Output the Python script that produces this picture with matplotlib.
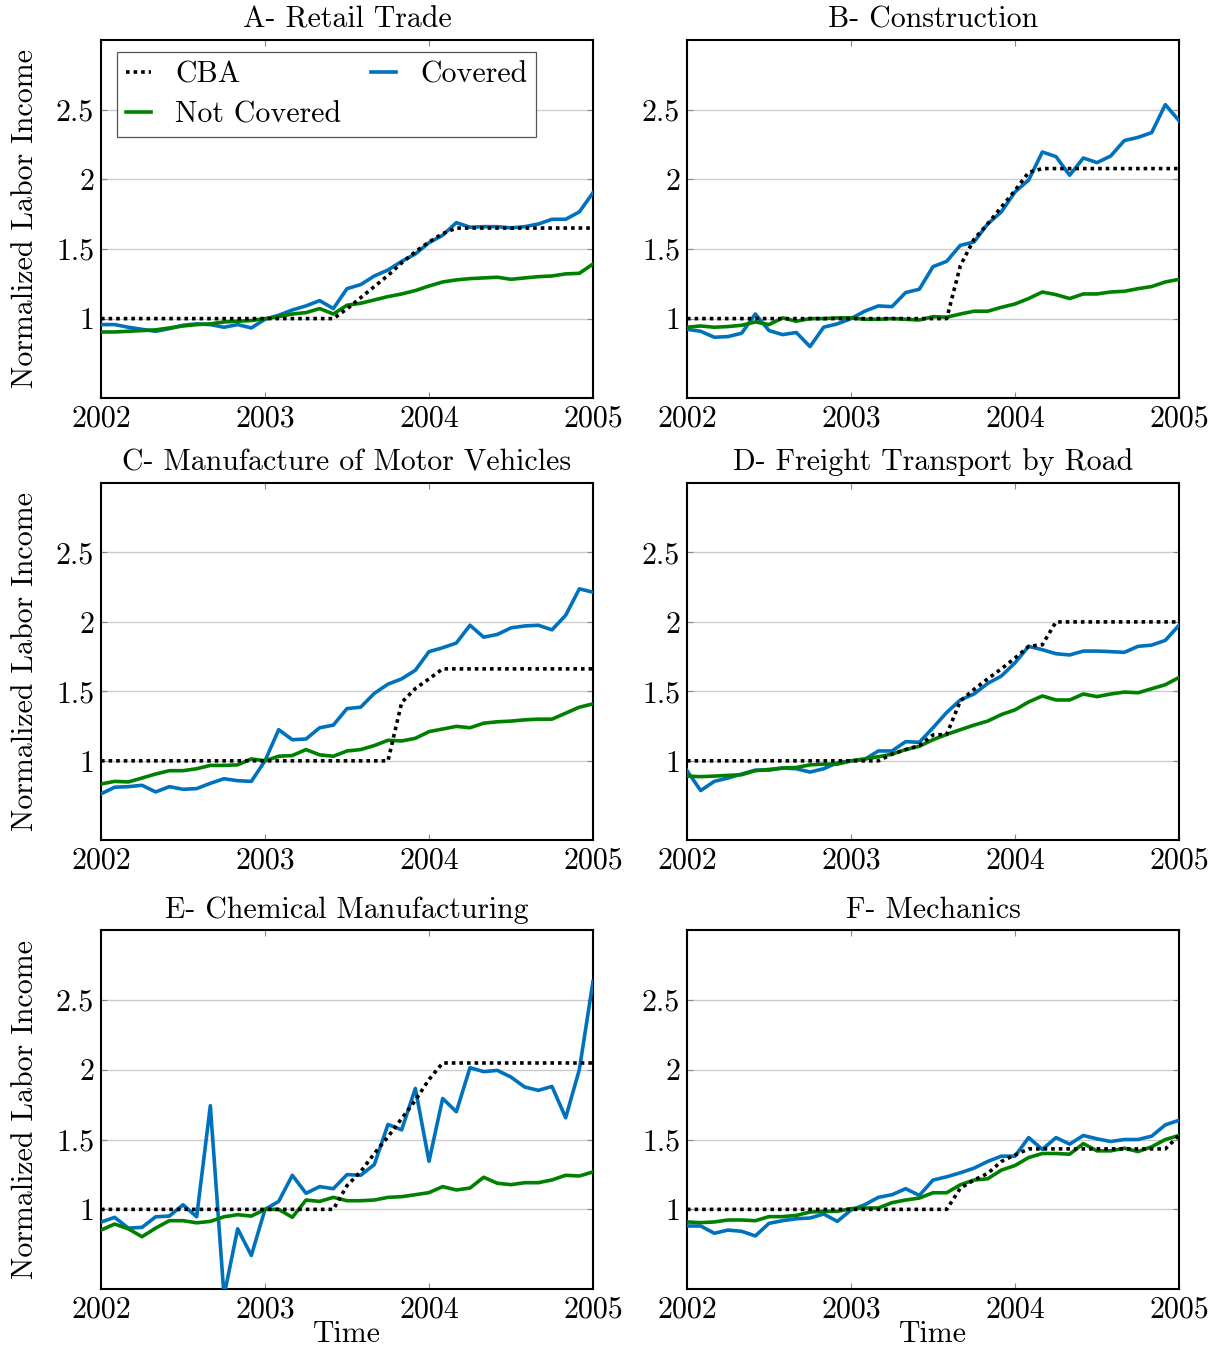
import numpy as np
import matplotlib
matplotlib.use("Agg")
import matplotlib.pyplot as plt
from matplotlib.ticker import FixedLocator, FixedFormatter

plt.rcParams['font.family'] = ['cmr10', 'DejaVu Serif']
plt.rcParams['mathtext.fontset'] = 'cm'
plt.rcParams['axes.formatter.use_mathtext'] = True

# monthly observations, Jan 2002 .. Jan 2005
months = 2002 + np.arange(37) / 12.0

titles = ["A- Retail Trade", "B- Construction",
          "C- Manufacture of Motor Vehicles", "D- Freight Transport by Road",
          "E- Chemical Manufacturing", "F- Mechanics"]

# A- Retail Trade
cba_a = [1.0] * 18 + [1.07, 1.15, 1.23, 1.31, 1.40, 1.48, 1.55, 1.61, 1.65] + [1.65] * 10
cov_a = [0.957, 0.957, 0.938, 0.923, 0.909, 0.928, 0.952, 0.962, 0.957, 0.938, 0.957, 0.933,
         0.995, 1.024, 1.062, 1.091, 1.129, 1.072, 1.215, 1.244, 1.306, 1.349, 1.411, 1.464,
         1.545, 1.598, 1.689, 1.656, 1.660, 1.660, 1.651, 1.660, 1.679, 1.713, 1.713, 1.766, 1.904]
nc_a = [0.904, 0.904, 0.909, 0.914, 0.919, 0.933, 0.947, 0.957, 0.962, 0.976, 0.981, 0.986,
        1.0, 1.014, 1.033, 1.043, 1.072, 1.033, 1.096, 1.110, 1.134, 1.158, 1.177, 1.201,
        1.234, 1.263, 1.278, 1.287, 1.292, 1.297, 1.282, 1.292, 1.301, 1.306, 1.321, 1.325, 1.392]

# B- Construction
cba_b = [1.0] * 20 + [1.38, 1.57, 1.68, 1.80, 1.92, 2.05, 2.077] + [2.077] * 10
cov_b = [0.923, 0.909, 0.866, 0.871, 0.895, 1.033, 0.914, 0.885, 0.900, 0.799, 0.938, 0.962,
         1.0, 1.053, 1.091, 1.086, 1.187, 1.211, 1.373, 1.411, 1.526, 1.550, 1.679, 1.766,
         1.909, 1.995, 2.196, 2.163, 2.029, 2.153, 2.120, 2.167, 2.278, 2.301, 2.335, 2.536, 2.421]
nc_b = [0.938, 0.947, 0.938, 0.943, 0.952, 0.976, 0.957, 1.005, 0.981, 1.0, 1.0, 1.005,
        1.005, 0.995, 0.995, 1.0, 0.995, 0.990, 1.014, 1.010, 1.033, 1.053, 1.053, 1.081,
        1.105, 1.144, 1.191, 1.172, 1.144, 1.177, 1.177, 1.191, 1.196, 1.215, 1.230, 1.263, 1.282]

# C- Manufacture of Motor Vehicles
cba_c = [1.0] * 22 + [1.42, 1.52, 1.59, 1.662] + [1.662] * 11
cov_c = [0.762, 0.810, 0.814, 0.824, 0.776, 0.814, 0.795, 0.800, 0.838, 0.871, 0.857, 0.852,
         1.0, 1.224, 1.152, 1.157, 1.238, 1.257, 1.376, 1.386, 1.486, 1.552, 1.590, 1.652,
         1.786, 1.814, 1.848, 1.976, 1.890, 1.910, 1.957, 1.971, 1.976, 1.943, 2.048, 2.238, 2.214]
nc_c = [0.833, 0.852, 0.848, 0.876, 0.905, 0.929, 0.929, 0.943, 0.967, 0.967, 0.971, 1.014,
        1.0, 1.033, 1.038, 1.081, 1.043, 1.033, 1.071, 1.081, 1.110, 1.148, 1.143, 1.162,
        1.210, 1.229, 1.248, 1.238, 1.271, 1.281, 1.286, 1.295, 1.300, 1.300, 1.343, 1.386, 1.410]

# D- Freight Transport by Road
cba_d = [1.0] * 15 + [1.048, 1.081, 1.110, 1.186, 1.19, 1.43, 1.514, 1.59, 1.662, 1.74,
                      1.824, 1.836, 2.0] + [2.0] * 9
cov_d = [0.929, 0.786, 0.852, 0.876, 0.905, 0.933, 0.933, 0.948, 0.943, 0.919, 0.943, 0.986,
         1.0, 1.010, 1.071, 1.071, 1.138, 1.133, 1.238, 1.348, 1.438, 1.481, 1.557, 1.610,
         1.705, 1.824, 1.800, 1.771, 1.762, 1.790, 1.790, 1.786, 1.781, 1.824, 1.833, 1.867, 1.976]
nc_d = [0.890, 0.886, 0.890, 0.895, 0.900, 0.929, 0.938, 0.948, 0.952, 0.971, 0.976, 0.976,
        1.0, 1.014, 1.029, 1.048, 1.081, 1.105, 1.152, 1.190, 1.224, 1.257, 1.286, 1.333,
        1.367, 1.424, 1.467, 1.438, 1.438, 1.481, 1.462, 1.481, 1.495, 1.490, 1.519, 1.548, 1.600]

# E- Chemical Manufacturing
cba_e = [1.0] * 18 + [1.17, 1.27, 1.40, 1.52, 1.65, 1.78, 1.93, 2.048] + [2.048] * 11
cov_e = [0.909, 0.943, 0.866, 0.871, 0.947, 0.952, 1.033, 0.947, 1.742, 0.38, 0.861, 0.670,
         1.0, 1.057, 1.244, 1.115, 1.163, 1.148, 1.249, 1.244, 1.321, 1.608, 1.569, 1.866,
         1.344, 1.794, 1.699, 2.014, 1.986, 1.995, 1.947, 1.876, 1.852, 1.880, 1.656, 2.0, 2.632]
nc_e = [0.852, 0.895, 0.861, 0.804, 0.866, 0.919, 0.919, 0.904, 0.914, 0.947, 0.962, 0.952,
        1.0, 1.0, 0.943, 1.067, 1.057, 1.086, 1.062, 1.062, 1.067, 1.086, 1.091, 1.105,
        1.120, 1.163, 1.139, 1.153, 1.230, 1.187, 1.177, 1.191, 1.191, 1.211, 1.244, 1.239, 1.268]

# F- Mechanics
cba_f = [1.0] * 20 + [1.152, 1.21, 1.257, 1.343, 1.39, 1.433] + [1.433] * 10 + [1.529]
cov_f = [0.881, 0.881, 0.829, 0.852, 0.843, 0.810, 0.900, 0.919, 0.933, 0.938, 0.967, 0.914,
         0.995, 1.033, 1.086, 1.105, 1.148, 1.100, 1.210, 1.233, 1.262, 1.295, 1.343, 1.381,
         1.381, 1.514, 1.429, 1.514, 1.467, 1.529, 1.505, 1.486, 1.500, 1.500, 1.524, 1.605, 1.638]
nc_f = [0.910, 0.905, 0.910, 0.924, 0.924, 0.919, 0.948, 0.948, 0.957, 0.981, 0.986, 0.986,
        1.005, 1.010, 1.010, 1.048, 1.067, 1.081, 1.119, 1.119, 1.176, 1.210, 1.219, 1.281,
        1.314, 1.371, 1.400, 1.400, 1.395, 1.471, 1.419, 1.419, 1.438, 1.414, 1.448, 1.500, 1.529]

cba = [cba_a, cba_b, cba_c, cba_d, cba_e, cba_f]
covered = [cov_a, cov_b, cov_c, cov_d, cov_e, cov_f]
not_covered = [nc_a, nc_b, nc_c, nc_d, nc_e, nc_f]

yticks = [1, 1.5, 2, 2.5]
ytick_labels = ["1", "1.5", "2", "2.5"]
xticks = [2002, 2003, 2004, 2005]
xtick_labels = ["2002", "2003", "2004", "2005"]

BLUE = "#0072bd"
GREEN = "#008000"
FS = 21.5

fig = plt.figure(figsize=(12.17, 13.5), dpi=100)

W, H = 1217.0, 1350.0
lefts = [101, 687]
rows = [(40, 398), (483, 840), (930, 1289)]
ax_w = 492

for i in range(6):
    r, c = divmod(i, 2)
    top, bot = rows[r]
    ax = fig.add_axes([lefts[c] / W, 1 - bot / H, ax_w / W, (bot - top) / H])

    l_cba, = ax.plot(months, cba[i], color="black", lw=2.6, linestyle=(0, (1, 1.1)),
                     label="CBA", zorder=4)
    l_cov, = ax.plot(months, covered[i], color=BLUE, lw=2.6, label="Covered", zorder=3)
    l_nc, = ax.plot(months, not_covered[i], color=GREEN, lw=2.6, label="Not Covered", zorder=3)

    ax.set_xlim(2002, 2005)
    ax.set_ylim(0.43, 3.0)
    ax.xaxis.set_major_locator(FixedLocator(xticks))
    ax.xaxis.set_major_formatter(FixedFormatter(xtick_labels))
    ax.yaxis.set_major_locator(FixedLocator(yticks))
    ax.yaxis.set_major_formatter(FixedFormatter(ytick_labels))
    ax.tick_params(direction="in", top=True, right=True, length=4.5, width=0.8,
                   color="#888888", labelsize=FS, pad=5)
    ax.grid(axis="y", color="#cccccc", lw=1.0)
    ax.set_axisbelow(True)
    for sp in ax.spines.values():
        sp.set_linewidth(1.5)

    ax.set_title(titles[i], fontsize=FS, pad=9)
    if c == 0:
        ax.set_ylabel("Normalized Labor Income", fontsize=FS, labelpad=12)
    if r == 2:
        ax.set_xlabel("Time", fontsize=FS, labelpad=-2)

    if i == 0:
        leg = ax.legend([l_cba, l_nc, l_cov], ["CBA", "Not Covered", "Covered"],
                        ncol=2, loc="upper left", bbox_to_anchor=(0.032, 0.967),
                        fontsize=FS, fancybox=False, framealpha=1, edgecolor="#555555",
                        handlelength=0.85, columnspacing=1.0, borderpad=0.3,
                        borderaxespad=0, labelspacing=0.42, handletextpad=0.8)
        leg.get_frame().set_linewidth(0.9)

fig.savefig("out.png", dpi=100)
